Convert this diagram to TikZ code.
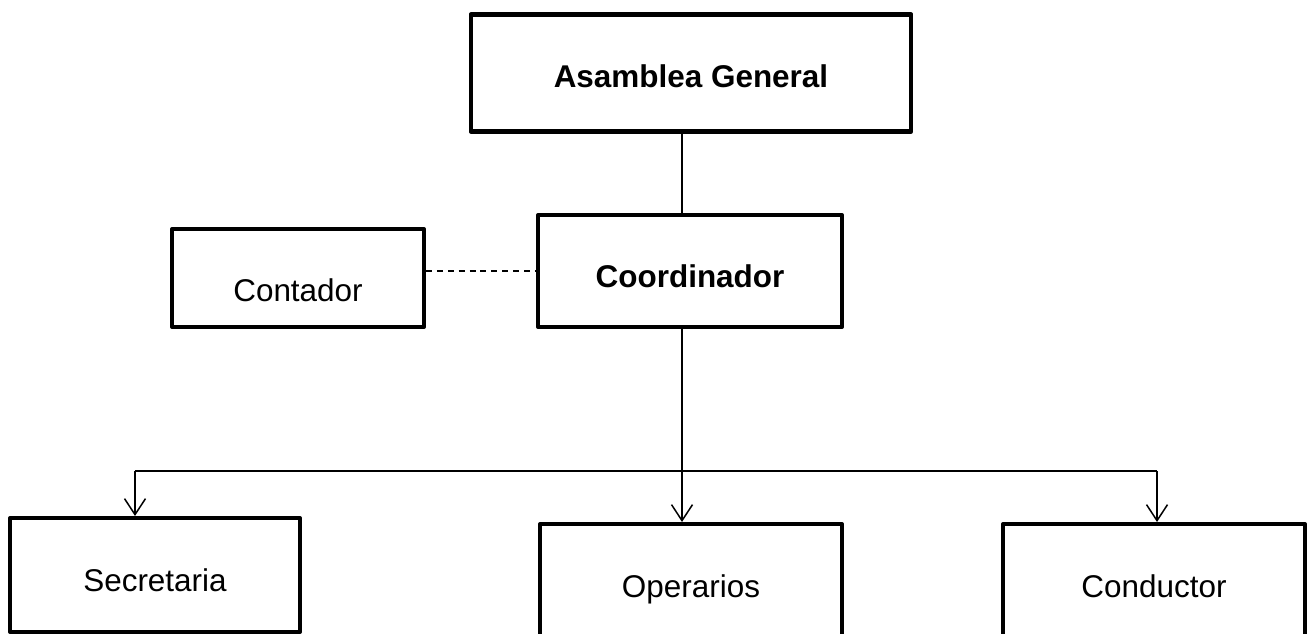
\documentclass[tikz,border=0pt]{standalone}
\usepackage{fontspec}
\setmainfont{Liberation Sans}
\usetikzlibrary{arrows.meta}

\begin{document}
\begin{tikzpicture}[x=0.02cm, y=-0.02cm,
    box/.style={draw, line width=2.3pt, line join=round, inner sep=0pt,
      text height=19pt, text depth=0pt, font=\fontsize{17.9}{21}\selectfont},
    link/.style={line width=0.85pt},
    >={Straight Barb[length=3.2mm, width=4.2mm]}]
  \clip (0,0) rectangle (1310,634);
  \fill[white] (0,0) rectangle (1310,634);

  \node[box, minimum width=8.82cm, minimum height=2.34cm, text height=17pt] at (691,73) (asamblea) {\textbf{Asamblea General}};
  \node[box, minimum width=6.08cm, minimum height=2.24cm] at (690,271) (coordinador) {\textbf{Coordinador}};
  \node[box, minimum width=5.04cm, minimum height=1.96cm, text height=27pt] at (298,278) (contador) {Contador};
  \node[box, minimum width=5.8cm, minimum height=2.28cm] at (155,575) (secretaria) {Secretaria};
  \node[box, minimum width=6.04cm, minimum height=2.28cm] at (691,581) (operarios) {Operarios};
  \node[box, minimum width=6.04cm, minimum height=2.28cm] at (1154,581) (conductor) {Conductor};

  % bus line under the coordinator
  \coordinate (bus) at (682,471);
  \coordinate (busleft) at (135,471);
  \coordinate (busright) at (1157,471);

  \draw[link] (asamblea.south -| bus) -- (coordinador.north -| bus);
  \draw[link, dash pattern=on 3.4pt off 2.8pt] (contador.east |- coordinador.west) -- (coordinador.west);
  \draw[link] (coordinador.south -| bus) -- (bus);
  \draw[link] (busleft) -- (busright);
  \draw[link, ->] (busleft) -- (secretaria.north -| busleft);
  \draw[link, ->] (bus) -- (operarios.north -| bus);
  \draw[link, ->] (busright) -- (conductor.north -| busright);
\end{tikzpicture}
\end{document}
